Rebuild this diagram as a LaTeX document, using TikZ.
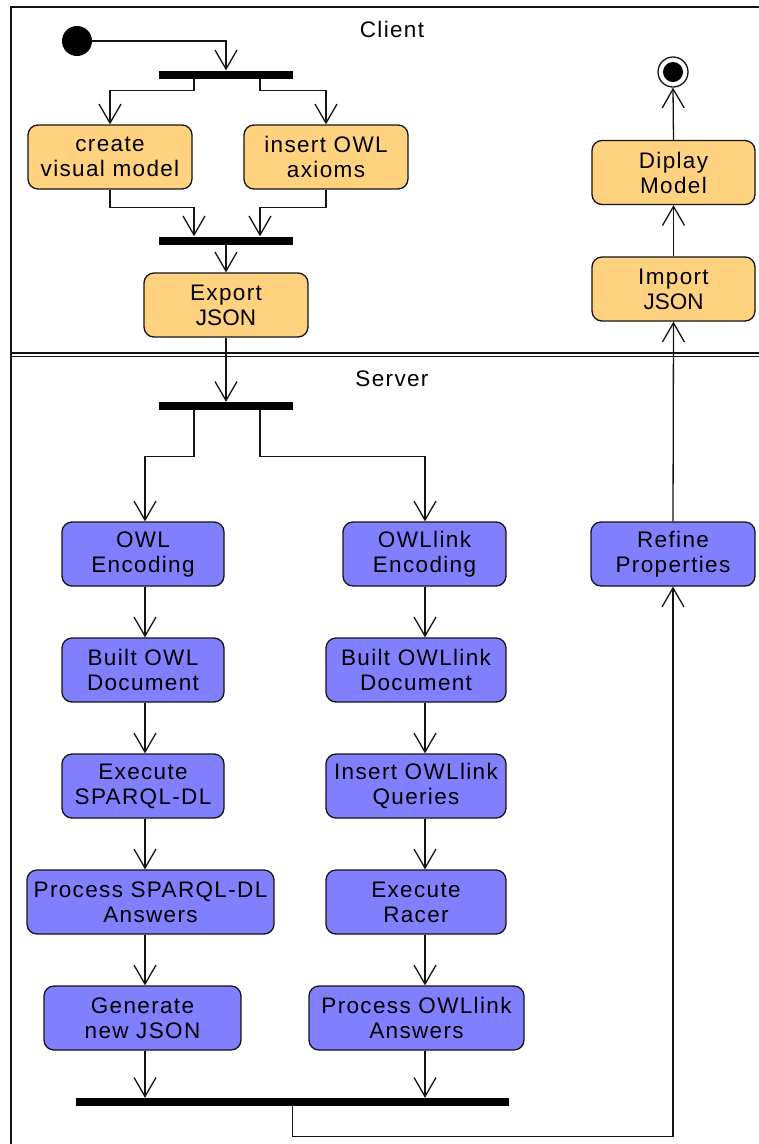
\documentclass[tikz,border=0pt]{standalone}
\usepackage{fontspec}
\usetikzlibrary{arrows.meta,calc}
\newfontfamily\lblfont{Liberation Sans}[LetterSpace=6]
\newfontfamily\plainfont{Liberation Sans}
\definecolor{clientfill}{RGB}{255,210,128}
\definecolor{serverfill}{RGB}{128,128,255}
\definecolor{ink}{RGB}{20,20,20}

\begin{document}
\begin{tikzpicture}[x=1pt,y=-1pt,
  act/.style={draw=ink, line width=1.3pt, rounded corners=10pt, minimum height=64pt,
              inner sep=0pt, align=center, font=\lblfont\fontsize{22.5}{25}\selectfont},
  client/.style={act, fill=clientfill},
  server/.style={act, fill=serverfill},
  bar/.style={fill=black, draw=none, minimum height=8pt, inner sep=0pt, minimum width=134pt},
  flow/.style={draw=ink, line width=1.3pt, -{Straight Barb[length=19pt,width=22pt]}},
  lane/.style={draw=ink, line width=1.5pt},
  lanelabel/.style={font=\lblfont\fontsize{22.5}{25}\selectfont}
]
\useasboundingbox (0,0) rectangle (759,1144);
\fill[white] (0,0) rectangle (759,1144);

% swimlanes
\draw[lane] (759,7) -- (11,7) -- (11,1144);
\draw[lane] (11,353) -- (759,353);
\draw[lane] (11,356.5) -- (759,356.5);
\node[lanelabel] (clientlbl) at (392,29) {Client};
\node[lanelabel] (serverlbl) at (392,379) {Server};

% column guides for the server-side flows
\coordinate (c1) at (145,0);
\coordinate (c2) at (425,0);

% client lane
\node[circle, fill=black, minimum size=30pt, inner sep=0pt] (start) at (77,41) {};
\node[bar] (fork1) at (226,74.5) {};
\node[client, minimum width=164pt] (create) at (110,157) {create\\visual model};
\node[client, minimum width=164pt] (insert) at (326,157) {insert OWL\\axioms};
\node[bar] (join1) at (226,240.5) {};
\node[client, minimum width=164pt] (export) at (226,305) {Export\\{\plainfont JSON}};

\node[circle, draw=ink, line width=1.3pt, fill=white, minimum size=30pt, inner sep=0pt] (stop) at (673,72) {};
\node[circle, fill=black, minimum size=20pt, inner sep=0pt] (stopdot) at (stop) {};
\node[client, minimum width=163pt] (display) at (673.5,172.5) {Diplay\\Model};
\node[client, minimum width=163pt] (import) at (673.5,289) {Import\\{\plainfont JSON}};

% server lane
\node[bar] (fork2) at (226,406) {};
\node[server, minimum width=162pt] (oenc) at (143,554) {OWL\\Encoding};
\node[server, minimum width=163pt] (lenc) at (424.5,554) {OWLlink\\Encoding};
\node[server, minimum width=164pt] (refine) at (673,554) {Refine\\Properties};
\node[server, minimum width=162pt] (obuilt) at (143,670) {Built OWL\\Document};
\node[server, minimum width=180pt] (lbuilt) at (416,670) {Built OWLlink\\Document};
\node[server, minimum width=162pt] (oexec) at (143,786) {Execute\\SPARQL-DL};
\node[server, minimum width=180pt] (lins) at (416,786) {Insert OWLlink\\Queries};
\node[server, minimum width=247pt] (oproc) at (150.5,902) {Process SPARQL-DL\\Answers};
\node[server, minimum width=180pt] (lexec) at (416,902) {Execute\\Racer};
\node[server, minimum width=197pt] (ogen) at (142.5,1018) {Generate\\new JSON};
\node[server, minimum width=215pt] (lproc) at (416.5,1018) {Process OWLlink\\Answers};
\node[bar, minimum width=433pt] (join2) at (292.5,1102) {};

% client flows
\draw[flow] (start.east) -| (fork1.north);
\draw[flow] ([xshift=-32pt]fork1.south) -- ++(0,12) -| (create.north);
\draw[flow] ([xshift=34pt]fork1.south) -- ++(0,12) -| (insert.north);
\draw[flow] (create.south) -- ++(0,18) -| ([xshift=-32pt]join1.north);
\draw[flow] (insert.south) -- ++(0,18) -| ([xshift=34pt]join1.north);
\draw[flow] (join1.south) -- (export.north);
\draw[flow] (export.south) -- (fork2.north);

% server flows
\draw[flow] ([xshift=-32pt]fork2.south) -- ++(0,46) -| (oenc.north -| c1);
\draw[flow] ([xshift=34pt]fork2.south) -- ++(0,46) -| (lenc.north -| c2);
\draw[flow] (oenc.south -| c1) -- (obuilt.north -| c1);
\draw[flow] (obuilt.south -| c1) -- (oexec.north -| c1);
\draw[flow] (oexec.south -| c1) -- (oproc.north -| c1);
\draw[flow] (oproc.south -| c1) -- (ogen.north -| c1);
\draw[flow] (ogen.south -| c1) -- (join2.north -| c1);
\draw[flow] (lenc.south -| c2) -- (lbuilt.north -| c2);
\draw[flow] (lbuilt.south -| c2) -- (lins.north -| c2);
\draw[flow] (lins.south -| c2) -- (lexec.north -| c2);
\draw[flow] (lexec.south -| c2) -- (lproc.north -| c2);
\draw[flow] (lproc.south -| c2) -- (join2.north -| c2);
\draw[flow] (join2.south) -- ++(0,30) -| (refine.south);

% back to the client
\draw[flow] (refine.north) -- (import.south);
\draw[flow] (import.north) -- (display.south);
\draw[flow] (display.north) -- (stop.south);
\end{tikzpicture}
\end{document}
